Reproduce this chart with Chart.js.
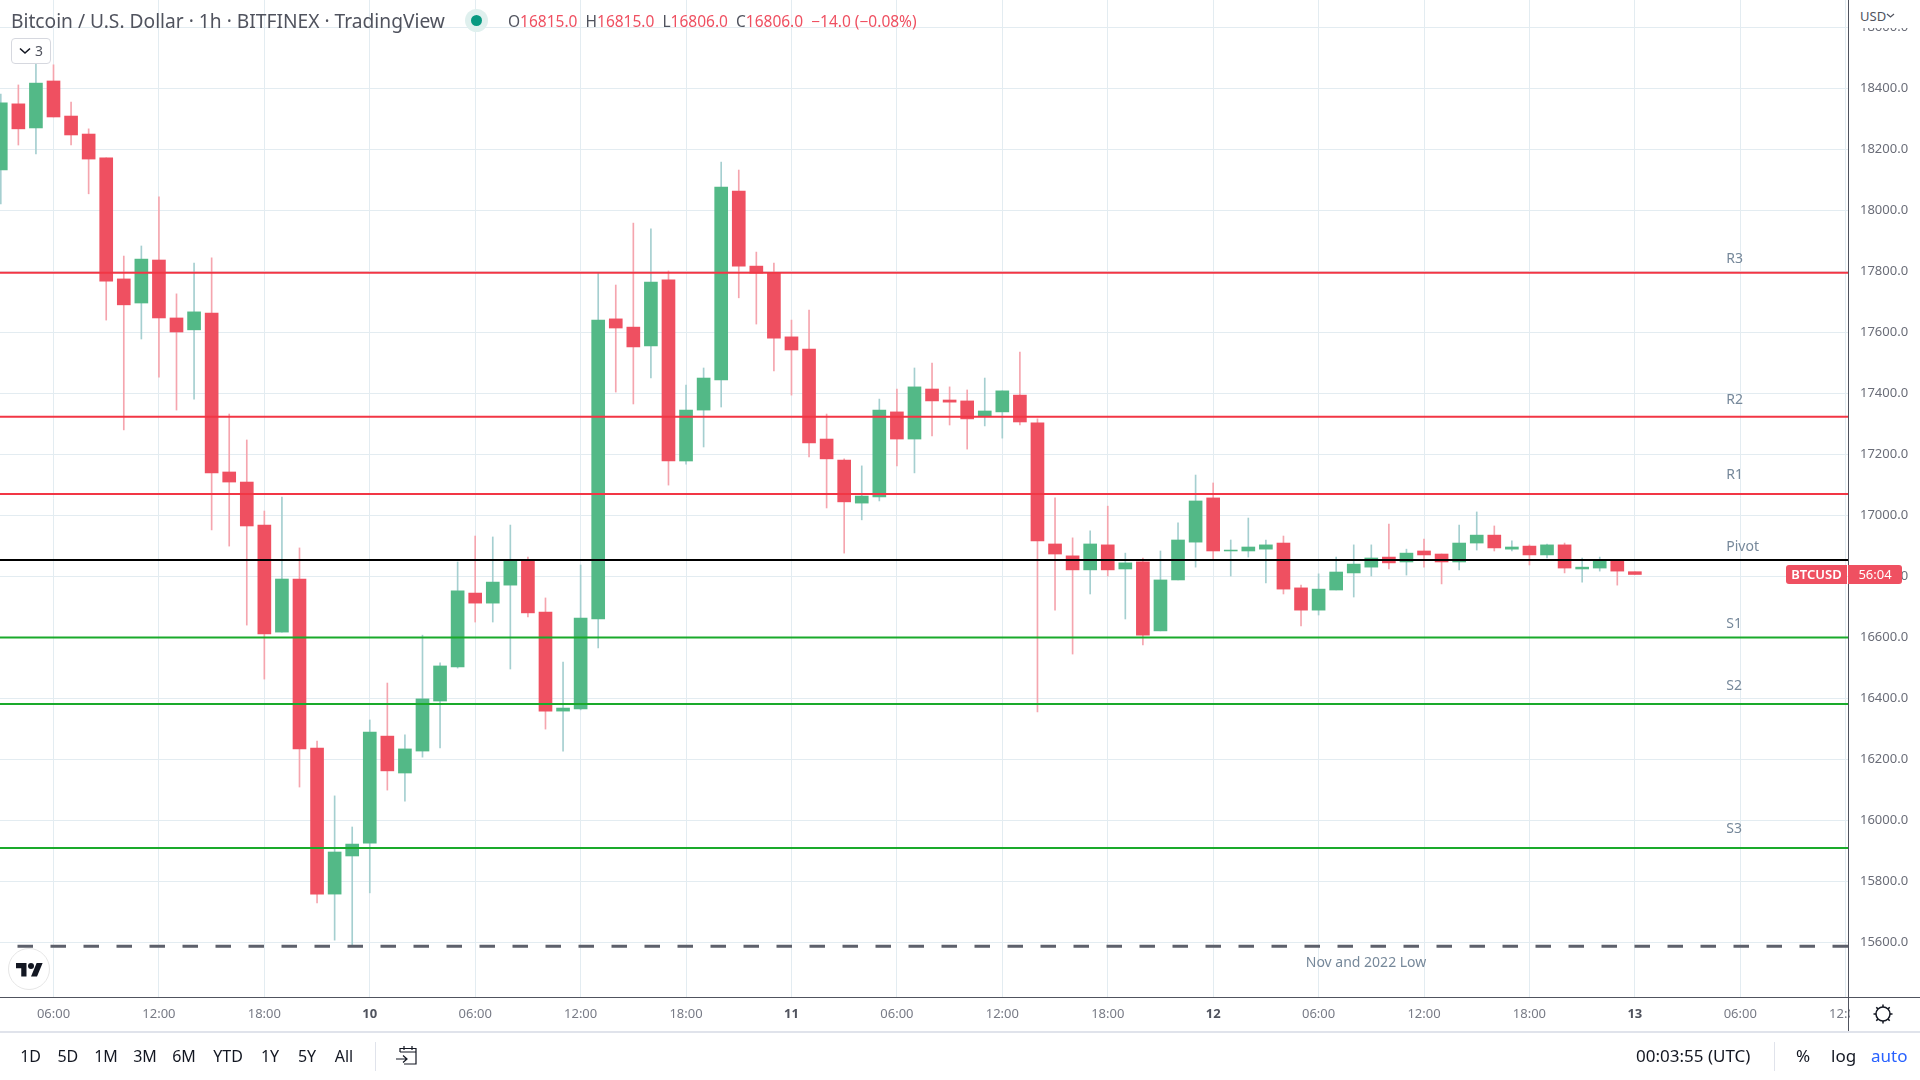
<!DOCTYPE html>
<html>
<head>
<meta charset="utf-8">
<title>Bitcoin / U.S. Dollar</title>
<script src="https://cdn.jsdelivr.net/npm/chart.js@4"></script>
<style>
html, body { margin: 0; padding: 0; background: #fff; }
body { width: 1920px; height: 1080px; position: relative; overflow: hidden; font-family: "Noto Sans", sans-serif; }
canvas { position: absolute; left: 0; top: 0; }
.abs { position: absolute; white-space: nowrap; }
.range { top: 1045px; font-size: 16px; line-height: 22px; color: #131722; transform: translateX(-50%); }
.foot { top: 1045px; font-size: 17px; line-height: 22px; color: #131722; }
</style>
</head>
<body>
<canvas id="btcChart" width="1920" height="1080"></canvas>

<!-- header -->
<div class="abs" style="left:11px;top:8px;font-size:19.2px;line-height:26px;color:#50535e">Bitcoin / U.S. Dollar · 1h · BITFINEX · TradingView</div>
<div class="abs" style="left:465px;top:9px;width:23px;height:23px;border-radius:50%;background:#dff0ee"></div>
<div class="abs" style="left:471px;top:15px;width:11px;height:11px;border-radius:50%;background:#089981"></div>
<div class="abs" style="left:508px;top:9px;font-size:15.5px;line-height:24px;color:#ef5061"><span style="color:#50535e">O</span>16815.0 <span style="color:#50535e">&nbsp;H</span>16815.0 <span style="color:#50535e">&nbsp;L</span>16806.0 <span style="color:#50535e">&nbsp;C</span>16806.0 &nbsp;−14.0 (−0.08%)</div>
<div class="abs" style="left:11px;top:38px;width:38px;height:24px;border:1px solid #d6d8df;border-radius:4px;background:#fff;font-size:14px;line-height:24px;color:#50535e">
  <svg style="position:absolute;left:7px;top:8px" width="12" height="8" viewBox="0 0 12 8"><path d="M1 1.5 6 6 11 1.5" fill="none" stroke="#131722" stroke-width="1.6"/></svg>
  <span style="position:absolute;left:23px;top:0">3</span>
</div>

<!-- price axis top and time axis corner -->
<div class="abs" style="left:1850px;top:0;width:70px;height:28px;background:#fff"></div>
<div class="abs" style="left:1860px;top:5px;font-size:13px;line-height:22px;color:#50535e">USD</div>
<svg class="abs" style="left:1886px;top:13px" width="9" height="6" viewBox="0 0 9 6"><path d="M1 1 4.5 4 8 1" fill="none" stroke="#50535e" stroke-width="1.2"/></svg>
<div class="abs" style="left:1850px;top:998px;width:70px;height:33px;background:#fff"></div>
<div class="abs" style="left:1848px;top:0;width:1px;height:1031px;background:#50535e"></div>
<div class="abs" style="left:0;top:997px;width:1920px;height:1px;background:#50535e"></div>
<div class="abs" style="left:0;top:1031px;width:1920px;height:2px;background:#e0e3eb"></div>
<svg class="abs" style="left:1871px;top:1002px" width="24" height="24" viewBox="0 0 24 24"><circle cx="12" cy="12" r="7" fill="none" stroke="#131722" stroke-width="1.5"/><path d="M12 2.5v2.5M12 19v2.5M2.5 12H5M19 12h2.5M5.3 5.3l1.8 1.8M16.9 16.9l1.8 1.8M5.3 18.7l1.8-1.8M16.9 7.1l1.8-1.8" stroke="#131722" stroke-width="1.5"/></svg>

<!-- last price tag -->
<div class="abs" style="left:1786px;top:565px;width:61px;height:19px;background:#ef5061;border-radius:3px 0 0 3px;color:#fff;font-size:13px;font-weight:600;line-height:19px;text-align:center">BTCUSD</div>
<div class="abs" style="left:1848px;top:565px;width:54px;height:19px;background:#ef5061;border-radius:0 3px 3px 0;color:#fff;font-size:13px;line-height:19px;text-align:center">56:04</div>

<!-- TradingView logo -->
<div class="abs" style="left:8px;top:948px;width:40px;height:40px;border:1.5px solid #e6e6e6;border-radius:50%;background:#fff"></div>
<svg class="abs" style="left:16px;top:960px" width="27" height="21" viewBox="0 0 36 28"><path d="M14 22H7V11H0V4h14v18zM28 22h-8l7.5-18h8L28 22z" fill="#131722"/><circle cx="20" cy="8" r="4" fill="#131722"/></svg>

<!-- footer -->
<div class="abs range" style="left:30.6px">1D</div>
<div class="abs range" style="left:67.8px">5D</div>
<div class="abs range" style="left:106px">1M</div>
<div class="abs range" style="left:145px">3M</div>
<div class="abs range" style="left:184px">6M</div>
<div class="abs range" style="left:228px">YTD</div>
<div class="abs range" style="left:270px">1Y</div>
<div class="abs range" style="left:307px">5Y</div>
<div class="abs range" style="left:344px">All</div>
<div class="abs" style="left:375px;top:1042px;width:1px;height:29px;background:#e0e3eb"></div>
<svg class="abs" style="left:395px;top:1045px" width="23" height="22" viewBox="0 0 23 22"><path d="M5 7V3.5h16V19H9M5 7h16M9 1v4M17 1v4" fill="none" stroke="#131722" stroke-width="1.2"/><path d="M1 14h11M8 10.5l4 3.5-4 3.5" fill="none" stroke="#131722" stroke-width="1.2"/></svg>
<div class="abs foot" style="left:1636px">00:03:55 (UTC)</div>
<div class="abs" style="left:1774px;top:1042px;width:1px;height:29px;background:#e0e3eb"></div>
<div class="abs foot" style="left:1796px">%</div>
<div class="abs foot" style="left:1831px">log</div>
<div class="abs foot" style="left:1871px;color:#2962ff">auto</div>

<script>
// hours counted from 06:00 on the 9th
var candleHours = [-3,-2,-1,0,1,2,3,4,5,6,7,8,9,10,11,12,13,14,15,16,17,18,19,20,21,22,23,24,25,26,27,28,29,30,31,32,33,34,35,36,37,38,39,40,41,42,43,44,45,46,47,48,49,50,51,52,53,54,55,56,57,58,59,60,61,62,63,64,65,66,67,68,69,70,71,72,73,74,75,76,77,78,79,80,81,82,83,84,85,86,87,88,89,90]
var opens = [18132,18349,18270,18424,18309,18250,18172,17775,17696,17837,17647,17608,17663,17142,17109,16968,16617,16791,16237,15758,15883,15925,16276,16155,16227,16391,16503,16745,16712,16771,16853,16683,16358,16365,16660,17644,17617,17555,17772,17178,17345,17444,18063,17817,17794,17585,17545,17250,17181,17040,17060,17339,17250,17414,17378,17375,17326,17339,17394,17303,16906,16867,16821,16903,16824,16847,16621,16788,16912,17057,16883,16883,16889,16909,16762,16689,16755,16811,16830,16863,16847,16883,16873,16847,16909,16935,16889,16899,16870,16903,16824,16827,16850,16815]
var highs = [18381,18411,18493,18477,18355,18267,18172,17850,17883,18044,17726,17827,17844,17332,17247,17014,17060,16893,16260,16080,15978,16329,16450,16280,16607,16516,16847,16932,16929,16968,16863,16729,16519,16837,17793,17755,17958,17939,17801,17427,17483,18158,18132,17863,17827,17640,17673,17332,17185,17162,17381,17414,17483,17499,17421,17411,17450,17408,17535,17316,17057,16926,16949,17030,16876,16860,16883,16975,17132,17106,16919,16991,16919,16932,16771,16808,16863,16903,16903,16971,16889,16922,16873,16968,17011,16965,16916,16903,16906,16909,16860,16863,16853,16815]
var lows = [18021,18214,18185,18306,18214,18054,17640,17280,17578,17453,17345,17381,16952,16899,16640,16463,16617,16109,15729,15607,15586,15762,16099,16063,16207,16237,16499,16650,16650,16496,16667,16299,16227,16362,16565,17404,17365,17450,17099,17168,17224,17355,17713,17627,17473,17394,17191,17024,16876,16985,17047,17162,17139,17260,17296,17217,17293,17253,17296,16355,16689,16545,16742,16801,16660,16575,16621,16788,16830,16857,16801,16863,16778,16742,16637,16673,16755,16732,16801,16824,16804,16830,16775,16821,16886,16883,16883,16837,16860,16811,16781,16817,16771,16806]
var closes = [18352,18267,18417,18306,18247,18168,17768,17690,17840,17647,17601,17667,17139,17109,16965,16611,16791,16234,15758,15896,15922,16289,16162,16234,16398,16506,16752,16712,16781,16853,16680,16358,16368,16663,17640,17614,17552,17765,17178,17345,17450,18076,17817,17794,17581,17542,17237,17185,17044,17063,17345,17250,17421,17375,17371,17316,17342,17408,17306,16916,16873,16821,16906,16821,16844,16607,16788,16919,17047,16883,16886,16896,16903,16758,16689,16758,16814,16840,16860,16844,16876,16870,16847,16909,16935,16893,16896,16870,16903,16827,16830,16853,16817,16806]

var levelNames = ['R3', 'R2', 'R1', 'Pivot', 'S1', 'S2', 'S3']
var levelValues = [17795, 17323, 17070, 16853, 16599, 16381, 15909]
var levelColors = ['#f23645', '#f23645', '#f23645', '#000000', '#1aaa2b', '#1aaa2b', '#1aaa2b']
var lowLabel = 'Nov and 2022 Low'
var lowValue = 15587

var priceTicks = [18600,18400,18200,18000,17800,17600,17400,17200,17000,16800,16600,16400,16200,16000,15800,15600]
var timeTickHours = [0,6,12,18,24,30,36,42,48,54,60,66,72,78,84,90,96,102]
var timeTickLabels = ['06:00','12:00','18:00','10','06:00','12:00','18:00','11','06:00','12:00','18:00','12','06:00','12:00','18:00','13','06:00','12:00']

var xMin = -3.045, xMax = 102.13
var yMin = 15420.6, yMax = 18689.5

var upColor = '#53b987', downColor = '#ef5061'
var upWick = '#a5cfd0', downWick = '#f5a5ae'

// how far each level text sits above its line, px
var levelTextGaps = [14, 17, 19, 13, 14, 18, 19]

function isUp(i){ return closes[i] >= opens[i] }

// day labels are the short ones, and they are bold
function isDayTick(c){ return c.tick && timeTickLabels[c.index].length == 2 }

var datasets = []

// levels on top of the candles
levelValues.forEach((v, i) => {
  datasets.push({
    type: 'line', label: levelNames[i], order: 1,
    data: [{x: xMin, y: v}, {x: xMax, y: v}],
    borderColor: levelColors[i], borderWidth: 2, pointRadius: 0
  })
})
datasets.push({
  type: 'line', label: lowLabel, order: 1,
  data: [{x: xMin, y: lowValue}, {x: xMax, y: lowValue}],
  borderColor: '#5d606b', borderWidth: 3, pointRadius: 0,
  borderDash: [15.5, 17.5], borderDashOffset: 15.5
})
datasets.push({
  type: 'bar', label: 'Body', order: 2, grouped: false, barThickness: 13,
  data: candleHours.map((h, i) => ({x: h, y: [opens[i], closes[i]]})),
  backgroundColor: candleHours.map((h, i) => isUp(i) ? upColor : downColor),
  borderWidth: 0
})
datasets.push({
  type: 'bar', label: 'Wick', order: 3, grouped: false, barThickness: 1,
  data: candleHours.map((h, i) => ({x: h, y: [lows[i], highs[i]]})),
  backgroundColor: candleHours.map((h, i) => isUp(i) ? upWick : downWick),
  borderWidth: 0
})

// R3, Pivot... texts sit just above their line
var levelText = {
  id: 'levelText',
  afterDatasetsDraw(chart){
    var ctx = chart.ctx, x = chart.scales.x, y = chart.scales.y
    ctx.save()
    ctx.font = '14px "Noto Sans"'
    ctx.fillStyle = '#76889a'
    ctx.textBaseline = 'middle'
    ctx.textAlign = 'left'
    levelNames.forEach((n, i) => {
      ctx.fillText(n, x.getPixelForValue(95.2), y.getPixelForValue(levelValues[i]) - levelTextGaps[i])
    })
    ctx.textAlign = 'center'
    ctx.fillText(lowLabel, x.getPixelForValue(74.7), y.getPixelForValue(lowValue) + 17)
    ctx.restore()
  }
}

var btcChart = new Chart(document.getElementById('btcChart'), {
  type: 'bar',
  data: { datasets: datasets },
  options: {
    responsive: false,
    animation: false,
    events: [],
    layout: { padding: 0 },
    plugins: {
      legend: { display: false },
      tooltip: { enabled: false },
      title: { display: false }
    },
    scales: {
      x: {
        type: 'linear', min: xMin, max: xMax, offset: false,
        grid: { color: '#e3ecf1', lineWidth: 1, offset: false, drawTicks: false },
        border: { display: false },
        afterBuildTicks(scale){ scale.ticks = timeTickHours.map((v) => ({value: v})) },
        afterFit(scale){ scale.height = 83 },
        ticks: {
          autoSkip: false, maxRotation: 0, padding: 9,
          callback: (v, i) => timeTickLabels[i],
          color: (c) => isDayTick(c) ? '#50535e' : '#787b86',
          font: (c) => isDayTick(c)
            ? { family: '"Noto Sans"', size: 13, weight: 'bold' }
            : { family: '"Noto Sans"', size: 13 }
        }
      },
      y: {
        type: 'linear', position: 'right', min: yMin, max: yMax,
        grid: { color: '#e3ecf1', lineWidth: 1, drawTicks: false },
        border: { display: false },
        afterBuildTicks(scale){ scale.ticks = priceTicks.map((v) => ({value: v})) },
        // tick padding must not push the plot down from the top edge
        afterFit(scale){
          scale.width = 72
          scale.paddingTop = 0
          scale.paddingBottom = 0
        },
        ticks: {
          padding: 12, color: '#6a6d78',
          font: { family: '"Noto Sans"', size: 13 },
          callback: (v) => v.toFixed(1)
        }
      }
    }
  },
  plugins: [levelText]
})
</script>
</body>
</html>
